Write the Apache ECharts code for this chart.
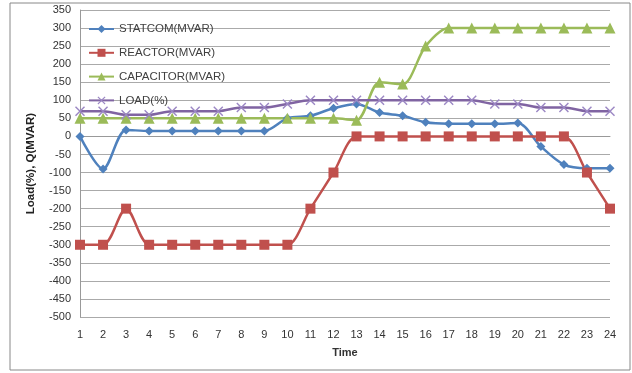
<!DOCTYPE html>
<html><head><meta charset="utf-8">
<script src="https://cdn.jsdelivr.net/npm/echarts@6/dist/echarts.min.js"></script>
<style>html,body{margin:0;padding:0;background:#fff}#c{width:632px;height:373px}</style>
</head><body><div id="c"></div>
<script>
const categories = ['1','2','3','4','5','6','7','8','9','10','11','12','13','14','15','16','17','18','19','20','21','22','23','24'];
const statcom   = [0,-90,18,15,15,15,15,15,15,50,57,78,90,66,57,39,35,35,35,37,-28,-78,-88,-88];
const reactor   = [-300,-300,-200,-300,-300,-300,-300,-300,-300,-300,-200,-100,0,0,0,0,0,0,0,0,0,0,-100,-200];
const capacitor = [50,50,50,50,50,50,50,50,50,50,50,50,45,150,145,250,300,300,300,300,300,300,300,300];
const load      = [70,70,60,60,70,70,70,80,80,90,100,100,100,100,100,100,100,100,90,90,80,80,70,70];
const names = ['STATCOM(MVAR)','REACTOR(MVAR)','CAPACITOR(MVAR)','LOAD(%)'];

const xSym = 'path://M0,1L1,0L5,4L9,0L10,1L6,5L10,9L9,10L5,6L1,10L0,9L4,5Z';
const chart = echarts.init(document.getElementById('c'));
function ser(name, data, color, symbol, size, mcolor){
  return {name, type:'line', data, smooth:0.3, symbol, symbolSize:size,
    lineStyle:{color, width:2.5}, itemStyle:{color: mcolor || color}, z: 3};
}
chart.setOption({
  animation:false,
  textStyle:{fontFamily:'Liberation Sans, Arial, sans-serif'},
  graphic:[{type:'rect', shape:{x:10,y:3,width:620,height:367}, style:{fill:'none', stroke:'#888', lineWidth:1}, z:-1}],
  grid:{left:80, right:22, top:10, bottom:56},
  legend:{orient:'vertical', left:88, top:23, padding:0, itemWidth:25, itemHeight:10, itemGap:11.8,
    textStyle:{fontSize:11.5, color:'#404040'}, data:names},
  xAxis:{type:'category', data:categories, boundaryGap:false,
    name:'Time', nameLocation:'middle', nameGap:30,
    nameTextStyle:{fontWeight:'bold', fontSize:11, color:'#333'},
    axisLine:{lineStyle:{color:'#999'}}, axisTick:{show:false},
    axisLabel:{fontSize:11, color:'#333', margin:12}},
  yAxis:{type:'value', min:-500, max:350, interval:50,
    name:'Load(%), Q(MVAR)', nameLocation:'middle', nameGap:43, nameRotate:90,
    nameTextStyle:{fontWeight:'bold', fontSize:11.5, color:'#222'},
    axisLine:{show:true, lineStyle:{color:'#999'}}, axisTick:{show:false},
    axisLabel:{fontSize:11, color:'#333', margin:9},
    splitLine:{lineStyle:{color:'#aaa'}}},
  series:[
    ser(names[0], statcom, '#4F81BD', 'diamond', 9),
    ser(names[1], reactor, '#C0504D', 'rect', 10),
    ser(names[2], capacitor, '#9BBB59', 'triangle', 11),
    ser(names[3], load, '#8064A2', xSym, 10, '#9B87C4')
  ]
});
</script></body></html>
